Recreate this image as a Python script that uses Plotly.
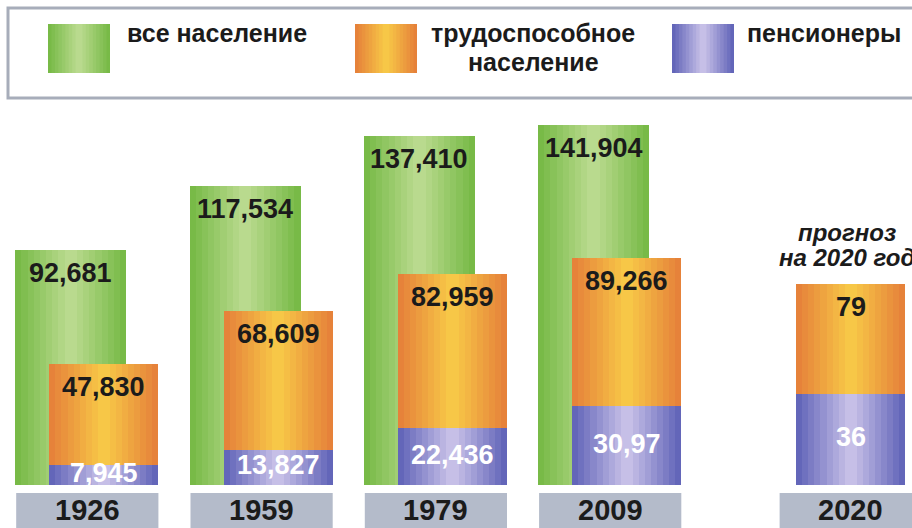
import plotly.graph_objects as go

# population data, millions
years = ["1926", "1959", "1979", "2009", "2020"]
total = [92.681, 117.534, 137.410, 141.904, None]
working = [47.830, 68.609, 82.959, 89.266, 79]
pensioners = [7.945, 13.827, 22.436, 30.97, 36]

total_labels = ["92,681", "117,534", "137,410", "141,904", ""]
working_labels = ["47,830", "68,609", "82,959", "89,266", "79"]
pensioner_labels = ["7,945", "13,827", "22,436", "30,97", "36"]

legend_names = ["все население", "трудоспособное", "население", "пенсионеры"]
forecast_note = ["прогноз", "на 2020 год"]
forecast_year = "2020"

W, H = 912, 528
PX_PER_UNIT = 2.54     # pixels per million
BASE_PX = 485          # baseline in page pixels
FORECAST_GAP = 0.38
GREEN_W, ORANGE_W, SHIFT = 0.637, 0.625, 0.095
N_STEPS = 9

GREEN = ("#78ba47", "#b9da8e")
ORANGE = ("#e6823a", "#f7c747")
PURPLE = ("#6366b9", "#c6bfe7")
FONT = "Liberation Sans"


def lerp(c1, c2, t):
    a = [int(c1[i:i + 2], 16) for i in (1, 3, 5)]
    b = [int(c2[i:i + 2], 16) for i in (1, 3, 5)]
    return "#" + "".join("%02x" % round(a[i] + (b[i] - a[i]) * t) for i in range(3))


def steps(colors):
    # edge -> centre stripes to fake the horizontal gradient
    return [(1 - k / N_STEPS, lerp(colors[0], colors[1], k / (N_STEPS - 1))) for k in range(N_STEPS)]


def px(x):
    return x / W


def py(y):
    return 1 - y / H


pos = [i + (FORECAST_GAP if y == forecast_year else 0) for i, y in enumerate(years)]
x_green = [p - SHIFT for p in pos]
x_orange = [p + (SHIFT if t is not None else 0) for p, t in zip(pos, total)]

fig = go.Figure()

for frac, col in steps(GREEN):
    fig.add_trace(go.Bar(x=x_green, y=total, width=GREEN_W * frac, marker=dict(color=col, line_width=0),
                         hoverinfo="skip", showlegend=False))
for frac, col in steps(ORANGE):
    fig.add_trace(go.Bar(x=x_orange, y=working, width=ORANGE_W * frac, marker=dict(color=col, line_width=0),
                         hoverinfo="skip", showlegend=False))
for frac, col in steps(PURPLE):
    fig.add_trace(go.Bar(x=x_orange, y=pensioners, width=ORANGE_W * frac, marker=dict(color=col, line_width=0),
                         hoverinfo="skip", showlegend=False))

ann = []
shapes = []
num_font = dict(family=FONT, size=27, color="#1b1b1b", weight="bold")

for i in range(len(years)):
    if total[i] is not None:
        ann.append(dict(x=x_green[i], y=total[i], text=total_labels[i], showarrow=False,
                        yanchor="middle", yshift=-23, font=num_font))
    ann.append(dict(x=x_orange[i], y=working[i], text=working_labels[i], showarrow=False,
                    yanchor="middle", yshift=-23, font=num_font))
    ann.append(dict(x=x_orange[i], y=pensioners[i] / 2, text=pensioner_labels[i], showarrow=False,
                    yanchor="middle", yshift=2, font=dict(num_font, color="white")))
    # grey year plate under each group
    shapes.append(dict(type="rect", xref="x", yref="paper", x0=pos[i] - 0.408, x1=pos[i] + 0.408,
                       y0=py(530), y1=py(493), fillcolor="#b4bbca", line_width=0, layer="below"))
    ann.append(dict(x=pos[i], y=py(510), yref="paper", text=years[i], showarrow=False,
                    yanchor="middle", font=dict(family=FONT, size=29, color="#1b1b1b", weight="bold")))

note_font = dict(family=FONT, size=24, color="#1b1b1b", weight="bold", style="italic")
ann.append(dict(x=px(847), y=py(232), xref="paper", yref="paper", text=forecast_note[0], showarrow=False,
                xanchor="center", yanchor="middle", font=note_font))
ann.append(dict(x=px(847), y=py(257), xref="paper", yref="paper", text=forecast_note[1], showarrow=False,
                xanchor="center", yanchor="middle", font=note_font))

# legend frame
shapes.append(dict(type="rect", xref="paper", yref="paper", x0=px(8), x1=px(930), y0=py(98), y1=py(8),
                   fillcolor="white", line=dict(color="#a7adba", width=3)))


def swatch(x0, x1, colors):
    half = (x1 - x0) / 2
    for frac, col in steps(colors):
        c = (x0 + x1) / 2
        shapes.append(dict(type="rect", xref="paper", yref="paper", x0=px(c - half * frac),
                           x1=px(c + half * frac), y0=py(73), y1=py(24), fillcolor=col, line_width=0))


swatch(48, 110, GREEN)
swatch(355, 417, ORANGE)
swatch(672, 734, PURPLE)

leg_font = dict(family=FONT, size=25, color="#1b1b1b", weight="bold")
ann.append(dict(x=px(125), y=py(33), xref="paper", yref="paper", text=legend_names[0], showarrow=False,
                xanchor="left", yanchor="middle", font=leg_font))
ann.append(dict(x=px(533), y=py(33), xref="paper", yref="paper", text=legend_names[1], showarrow=False,
                xanchor="center", yanchor="middle", font=leg_font))
ann.append(dict(x=px(533), y=py(62), xref="paper", yref="paper", text=legend_names[2], showarrow=False,
                xanchor="center", yanchor="middle", font=leg_font))
ann.append(dict(x=px(745), y=py(33), xref="paper", yref="paper", text=legend_names[3], showarrow=False,
                xanchor="left", yanchor="middle", font=leg_font))

x0 = -87.3 / 174.3
fig.update_layout(
    width=W, height=H,
    margin=dict(l=0, r=0, t=0, b=0),
    barmode="overlay",
    bargap=0,
    paper_bgcolor="white",
    plot_bgcolor="white",
    xaxis=dict(range=[x0, x0 + W / 174.3], visible=False, fixedrange=True),
    yaxis=dict(range=[-(H - BASE_PX) / PX_PER_UNIT, BASE_PX / PX_PER_UNIT], visible=False, fixedrange=True),
    shapes=shapes,
    annotations=ann,
    showlegend=False,
)

# drop the default page margin so the figure sits at 0,0
fig.write_html("out.html", config=dict(displayModeBar=False),
               post_script="document.body.style.margin='0';document.body.style.overflow='hidden';")
